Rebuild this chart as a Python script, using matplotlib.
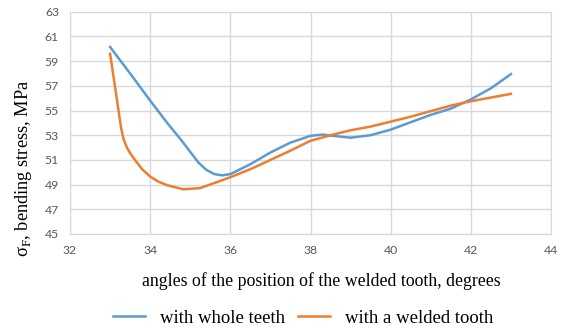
import matplotlib
matplotlib.use("Agg")
import matplotlib.pyplot as plt

# angles (degrees) and bending stress (MPa)
whole_x = [33, 33.5, 34, 34.4, 34.8, 35.0, 35.2, 35.4, 35.6, 35.8, 36, 36.5, 37, 37.5, 38,
           38.3, 38.7, 39, 39.5, 40, 40.5, 41, 41.5, 42, 42.5, 43]
whole_y = [60.15, 58.0, 55.8, 54.1, 52.5, 51.65, 50.8, 50.2, 49.85, 49.75, 49.85, 50.65, 51.6, 52.4, 52.95,
           53.05, 52.9, 52.8, 53.0, 53.45, 54.05, 54.65, 55.15, 55.9, 56.8, 57.95]

welded_x = [33, 33.06, 33.12, 33.21, 33.28, 33.34, 33.42, 33.5, 33.62, 33.8, 34, 34.2, 34.42, 34.83,
            35.25, 35.75, 36, 36.5, 37, 37.5, 38, 38.5, 39, 39.5, 40, 40.5, 41, 41.5, 42, 42.5, 43]
welded_y = [59.6, 58.3, 57.0, 55.0, 53.5, 52.65, 52.0, 51.55, 51.0, 50.25, 49.65, 49.25, 48.95, 48.62,
            48.72, 49.3, 49.6, 50.25, 51.0, 51.75, 52.55, 53.0, 53.4, 53.7, 54.1, 54.5, 54.95, 55.4, 55.75, 56.05, 56.35]

xticks = [32, 34, 36, 38, 40, 42, 44]
yticks = [45, 47, 49, 51, 53, 55, 57, 59, 61, 63]

fig = plt.figure(figsize=(5.7, 3.35), dpi=100)
ax = fig.add_axes([0.1228, 0.3015, 0.8439, 0.6635])

ax.plot(whole_x, whole_y, color="#5B9BD5", lw=1.8, label="with whole teeth")
ax.plot(welded_x, welded_y, color="#ED7D31", lw=1.8, label="with a welded tooth")

ax.set_xlim(32, 44)
ax.set_ylim(45, 63)
ax.set_xticks(xticks)
ax.set_yticks(yticks)
ax.grid(True, color="#D9D9D9", lw=1)
ax.set_axisbelow(True)
for s in ax.spines.values():
    s.set_color("#D9D9D9")
ax.tick_params(length=0, labelsize=8.8, labelcolor="#595959", pad=8)
for lab in ax.get_xticklabels() + ax.get_yticklabels():
    lab.set_fontfamily("Lato")

serif = "Liberation Serif"
fig.text(0.564, 0.16, "angles of the position of the welded tooth, degrees",
         ha="center", va="center", fontsize=12.8, family=serif)
fig.text(0.042, 0.497, r"σ$_\mathregular{F}$, bending stress, MPa", rotation=90,
         ha="center", va="center", fontsize=13.2, family=serif)

leg = fig.legend(loc="center", bbox_to_anchor=(0.532, 0.05), ncol=2, frameon=False,
                 prop={"family": serif, "size": 13.5}, handlelength=1.7,
                 columnspacing=0.7, handletextpad=0.8)

fig.savefig("out.png", dpi=100)
